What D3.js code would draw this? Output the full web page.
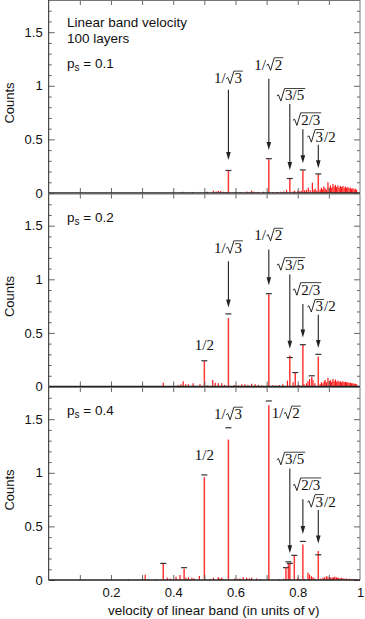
<!DOCTYPE html>
<html lang="en">
<head>
    <meta charset="UTF-8">
    <title>Linear band velocity</title>
    <script src="https://d3js.org/d3.v7.min.js"></script>
    <style>
        body { margin: 0; background: white; }
        svg { display: block; }
        .tick text { font-family: 'Liberation Sans', Arial, sans-serif; font-size: 13px; fill: #111; }
        .tick line { stroke: #666; }
        .sans { font-family: 'Liberation Sans', Arial, sans-serif; fill: #111; }
        .math text { font-family: 'Liberation Serif', 'Times New Roman', serif; font-size: 15px; fill: #111; }
    </style>
</head>
<body>
<svg width="365" height="619"></svg>
<script>
    // theoretical peak positions (in units of v) and their labels
    const peakVel = [0.5, 1 / Math.sqrt(3), 1 / Math.sqrt(2), Math.sqrt(3 / 5), Math.sqrt(2 / 3), Math.sqrt(3) / 2];
    const peakLabels = ['1/2', '1/√{3}', '1/√{2}', '√{3/5}', '√{2/3}', '√{3}/2'];

    const panelP = ['0.1', '0.2', '0.4'];

    // bar heights and cap heights at the labelled peaks, per panel
    const peakBars = [
        [0, 0.21, 0.315, 0.135, 0.21, 0.178],
        [0.24, 0.64, 0.86, 0.29, 0.39, 0.28],
        [0.96, 1.31, 1.63, 0.15, 0.33, 0.27]
    ];
    const peakCaps = [
        [null, 0.21, 0.32, 0.135, 0.215, 0.178],
        [0.24, 0.677, 0.866, 0.27, 0.39, 0.30],
        [0.98, 1.42, 1.67, 0.155, 0.36, 0.235]
    ];

    // other capped bars: [velocity, bar, cap]
    const extraBars = [
        [],
        [[0.792, 0.13, 0.13], [0.845, 0.09, 0.10]],
        [[0.368, 0.15, 0.155], [0.435, 0.105, 0.115], [0.762, 0.115, 0.115], [0.770, 0.15, 0.17], [0.789, 0.23, 0.23]]
    ];

    // small background bars: [velocity, count]
    const noise1 = [[0.430, 0.012], [0.462, 0.01], [0.51, 0.012], [0.529, 0.02], [0.538, 0.015], [0.545, 0.02], [0.552, 0.018],
        [0.562, 0.012], [0.570, 0.01], [0.60, 0.01], [0.615, 0.008], [0.636, 0.015], [0.645, 0.01], [0.652, 0.02], [0.66, 0.012],
        [0.672, 0.01], [0.69, 0.012], [0.72, 0.01], [0.735, 0.01], [0.745, 0.012], [0.755, 0.015], [0.764, 0.03], [0.785, 0.015],
        [0.79, 0.02], [0.80, 0.02], [0.806, 0.015], [0.811, 0.02], [0.822, 0.025], [0.828, 0.03], [0.834, 0.05], [0.840, 0.025],
        [0.847, 0.095], [0.852, 0.03], [0.856, 0.04], [0.861, 0.02], [0.872, 0.03], [0.876, 0.05], [0.880, 0.035], [0.884, 0.06],
        [0.888, 0.045], [0.892, 0.03], [0.897, 0.10], [0.901, 0.05], [0.905, 0.07], [0.909, 0.05], [0.913, 0.085], [0.917, 0.06],
        [0.921, 0.075], [0.925, 0.055], [0.929, 0.07], [0.933, 0.05], [0.937, 0.065], [0.941, 0.055], [0.945, 0.065], [0.949, 0.05],
        [0.953, 0.06], [0.957, 0.05], [0.961, 0.055], [0.965, 0.045], [0.969, 0.05], [0.973, 0.04], [0.977, 0.045], [0.981, 0.035],
        [0.985, 0.04], [0.989, 0.03]];
    const noise2 = [[0.368, 0.035], [0.416, 0.015], [0.425, 0.02], [0.432, 0.05], [0.440, 0.02], [0.449, 0.02], [0.464, 0.03],
        [0.486, 0.02], [0.51, 0.01], [0.527, 0.06], [0.535, 0.035], [0.545, 0.03], [0.556, 0.03], [0.565, 0.015], [0.596, 0.015],
        [0.61, 0.01], [0.62, 0.02], [0.63, 0.02], [0.64, 0.015], [0.652, 0.025], [0.663, 0.02], [0.674, 0.015], [0.685, 0.01],
        [0.72, 0.012], [0.73, 0.01], [0.741, 0.015], [0.752, 0.02], [0.767, 0.055], [0.785, 0.04], [0.80, 0.015], [0.806, 0.012],
        [0.82, 0.02], [0.828, 0.03], [0.833, 0.05], [0.838, 0.07], [0.849, 0.06], [0.855, 0.03], [0.872, 0.02], [0.876, 0.04],
        [0.881, 0.03], [0.885, 0.05], [0.888, 0.06], [0.892, 0.04], [0.897, 0.08], [0.901, 0.05], [0.905, 0.06], [0.909, 0.045],
        [0.913, 0.07], [0.917, 0.05], [0.921, 0.065], [0.925, 0.045], [0.929, 0.055], [0.933, 0.045], [0.937, 0.05], [0.941, 0.04],
        [0.945, 0.05], [0.949, 0.04], [0.953, 0.045], [0.957, 0.04], [0.961, 0.04], [0.965, 0.035], [0.969, 0.035], [0.973, 0.03],
        [0.977, 0.03], [0.981, 0.025], [0.985, 0.025], [0.989, 0.02]];
    const noise3 = [[0.256, 0.01], [0.301, 0.015], [0.31, 0.05], [0.32, 0.01], [0.347, 0.01], [0.381, 0.02], [0.39, 0.015],
        [0.409, 0.03], [0.422, 0.047], [0.441, 0.02], [0.449, 0.025], [0.46, 0.02], [0.467, 0.015], [0.484, 0.037], [0.518, 0.01],
        [0.529, 0.02], [0.545, 0.025], [0.55, 0.015], [0.556, 0.02], [0.598, 0.015], [0.606, 0.012], [0.614, 0.015], [0.625, 0.025],
        [0.636, 0.02], [0.645, 0.015], [0.652, 0.02], [0.668, 0.015], [0.68, 0.01], [0.74, 0.01], [0.755, 0.012], [0.80, 0.02],
        [0.808, 0.01], [0.822, 0.01], [0.833, 0.07], [0.838, 0.05], [0.844, 0.035], [0.849, 0.025], [0.855, 0.015], [0.874, 0.015],
        [0.881, 0.02], [0.886, 0.025], [0.892, 0.035], [0.897, 0.03], [0.902, 0.02], [0.906, 0.025], [0.911, 0.02], [0.915, 0.025],
        [0.919, 0.03], [0.924, 0.025], [0.928, 0.02], [0.932, 0.02], [0.937, 0.015], [0.941, 0.02], [0.946, 0.015], [0.951, 0.012],
        [0.956, 0.015], [0.961, 0.01], [0.966, 0.012], [0.972, 0.01], [0.977, 0.008], [0.983, 0.008], [0.989, 0.006]];
    const noise = [noise1, noise2, noise3];

    // annotation placement in count units: [label baseline, arrow top, arrow tip] (null = no arrow / no label)
    const annot = [
        [null, [1.025, 0.963, 0.308], [1.15, 1.065, 0.40], [0.863, 0.83, 0.215], [0.636, 0.595, 0.278], [0.48, 0.449, 0.231]],
        [[0.336, null, null], [1.247, 1.168, 0.738], [1.364, 1.277, 0.944], [1.09, 1.044, 0.352], [0.857, 0.77, 0.458], [0.70, 0.67, 0.359]],
        [[1.115, null, null], [1.50, null, null], [1.51, null, null], [1.08, 1.04, 0.25], [0.84, 0.754, 0.43], [0.685, 0.654, 0.34]]
    ];
    const labelDx = [0, 0, 0, 1, 4, 3];

    const xTicks = d3.range(1, 10).map(d => d / 10);
    const xLabels = [0.2, 0.4, 0.6, 0.8, 1];
    const yMajor = [0, 0.5, 1, 1.5];
    const yMinor = d3.range(1, 18).map(d => d / 10).filter(d => !yMajor.includes(d));

    const svg = d3.select('svg');
    const x = d3.scaleLinear().domain([0, 1]).range([48.7, 360]);
    const panelTops = [0, 193.5, 387];
    const panelH = 193;

    function mathLabel(g, spec, x0, yb, anchor) {
        const fs = 15;
        const grp = g.append('g').attr('class', 'math');
        let cx = 0;
        spec.match(/√\{[^}]*\}|[^√]+/g).forEach(tok => {
            if (tok.startsWith('√')) {
                const rad = tok.slice(2, -1);
                const rw = fs * 0.55;
                grp.append('path')
                    .attr('d', `M${cx + 0.5},${-fs * 0.3} L${cx + fs * 0.14},${-fs * 0.38} L${cx + fs * 0.3},${fs * 0.04} L${cx + rw},${-fs * 0.8}`)
                    .attr('fill', 'none').attr('stroke', '#111').attr('stroke-width', 0.9);
                const t = grp.append('text').attr('x', cx + rw + 0.5).text(rad);
                const w = t.node().getComputedTextLength();
                grp.append('line')
                    .attr('x1', cx + rw).attr('x2', cx + rw + w + 1.5)
                    .attr('y1', -fs * 0.8).attr('y2', -fs * 0.8)
                    .attr('stroke', '#111').attr('stroke-width', 0.8);
                cx += rw + w + 1.5;
            } else {
                const t = grp.append('text').attr('x', cx).text(tok);
                cx += t.node().getComputedTextLength();
            }
        });
        const shift = anchor === 'middle' ? -cx / 2 : 0;
        grp.attr('transform', `translate(${x0 + shift},${yb})`);
    }

    panelTops.forEach((top, i) => {
        const y = d3.scaleLinear().domain([0, 1.8]).range([top + panelH, top + panelH - 1.8 * 107.2]);
        const g = svg.append('g');
        const last = i === panelTops.length - 1;

        // background bars
        g.append('g').selectAll('line')
            .data(noise[i])
            .enter().append('line')
            .attr('x1', d => x(d[0])).attr('x2', d => x(d[0]))
            .attr('y1', y(0)).attr('y2', d => y(d[1]))
            .attr('stroke', '#ff1a1a').attr('stroke-width', 1.2);

        // peaks (labelled + extra)
        const peaks = peakVel.map((v, k) => [v, peakBars[i][k], peakCaps[i][k]]).concat(extraBars[i]);
        g.append('g').selectAll('line')
            .data(peaks.filter(d => d[1] > 0))
            .enter().append('line')
            .attr('x1', d => x(d[0])).attr('x2', d => x(d[0]))
            .attr('y1', y(0)).attr('y2', d => y(d[1]))
            .attr('stroke', '#ff3838').attr('stroke-width', 1.5);

        g.append('g').selectAll('line')
            .data(peaks.filter(d => d[2] != null))
            .enter().append('line')
            .attr('x1', d => x(d[0]) - 3).attr('x2', d => x(d[0]) + 3)
            .attr('y1', d => y(d[2])).attr('y2', d => y(d[2]))
            .attr('stroke', '#333').attr('stroke-width', 1.2);

        // arrows and labels
        annot[i].forEach((a, k) => {
            if (!a) return;
            const px = x(peakVel[k]);
            if (a[1] != null) {
                g.append('line')
                    .attr('x1', px).attr('x2', px)
                    .attr('y1', y(a[1])).attr('y2', y(a[2]) - 6)
                    .attr('stroke', '#222').attr('stroke-width', 1.1);
                g.append('path')
                    .attr('d', `M${px - 2.3},${y(a[2]) - 8} L${px + 2.3},${y(a[2]) - 8} L${px},${y(a[2])} Z`)
                    .attr('fill', '#222');
            }
            if (last && k === 2) {
                mathLabel(g, peakLabels[k], px + 3, y(a[0]), 'start');
            } else {
                mathLabel(g, peakLabels[k], px + labelDx[k], y(a[0]), 'middle');
            }
        });

        // axes
        const yl = g.append('g').attr('transform', `translate(${x(0)},0)`)
            .call(d3.axisLeft(y).tickValues(yMajor).tickSize(-6).tickPadding(6).tickFormat(d3.format('~g')));
        const ylm = g.append('g').attr('transform', `translate(${x(0)},0)`)
            .call(d3.axisLeft(y).tickValues(yMinor).tickSize(-3).tickFormat(''));
        const yr = g.append('g').attr('transform', `translate(${x(1)},0)`)
            .call(d3.axisRight(y).tickValues(yMajor).tickSize(-6).tickFormat(''));
        const yrm = g.append('g').attr('transform', `translate(${x(1)},0)`)
            .call(d3.axisRight(y).tickValues(yMinor).tickSize(-3).tickFormat(''));
        const xb = g.append('g').attr('transform', `translate(0,${y(0)})`)
            .call(d3.axisBottom(x).tickValues(xTicks).tickSize(-5).tickFormat(''));
        const xt = g.append('g').attr('transform', `translate(0,${top})`)
            .call(d3.axisTop(x).tickValues(xTicks).tickSize(-5).tickFormat(''));
        [yl, ylm, yr, yrm, xb, xt].forEach(a => a.select('.domain').remove());

        if (last) {
            g.append('g').attr('transform', `translate(0,${y(0)})`)
                .call(d3.axisBottom(x).tickValues(xLabels).tickSize(0).tickPadding(8).tickFormat(d3.format('~g')))
                .select('.domain').remove();
        }

        // frame
        g.append('line').attr('x1', x(0)).attr('x2', x(1)).attr('y1', top + 0.5).attr('y2', top + 0.5).attr('stroke', '#777');
        g.append('line').attr('x1', x(1)).attr('x2', x(1)).attr('y1', top).attr('y2', y(0)).attr('stroke', '#777');
        g.append('line').attr('x1', x(0)).attr('x2', x(0)).attr('y1', top).attr('y2', y(0)).attr('stroke', '#222');
        g.append('line').attr('x1', x(0)).attr('x2', x(1)).attr('y1', y(0)).attr('y2', y(0)).attr('stroke', '#222').attr('stroke-width', 1.6);

        // texts
        g.append('text').attr('class', 'sans')
            .attr('transform', `translate(13.5,${top + 103}) rotate(-90)`)
            .attr('text-anchor', 'middle').style('font-size', '13px')
            .text('Counts');

        const ps = g.append('text').attr('class', 'sans')
            .attr('x', 67).attr('y', i === 0 ? 68.3 : top + 28)
            .style('font-size', '13.5px');
        ps.append('tspan').text('p');
        ps.append('tspan').attr('dy', 3).style('font-size', '10px').text('s');
        ps.append('tspan').attr('dy', -3).text(' = ' + panelP[i]);

        if (i === 0) {
            g.append('text').attr('class', 'sans').attr('x', 67).attr('y', 26.7)
                .style('font-size', '13.5px').text('Linear band velocity');
            g.append('text').attr('class', 'sans').attr('x', 67).attr('y', 43.3)
                .style('font-size', '13.5px').text('100 layers');
        }
    });

    svg.append('text').attr('class', 'sans')
        .attr('x', 213.8).attr('y', 615)
        .attr('text-anchor', 'middle').style('font-size', '13.5px')
        .text('velocity of linear band (in units of v)');
</script>
</body>
</html>
